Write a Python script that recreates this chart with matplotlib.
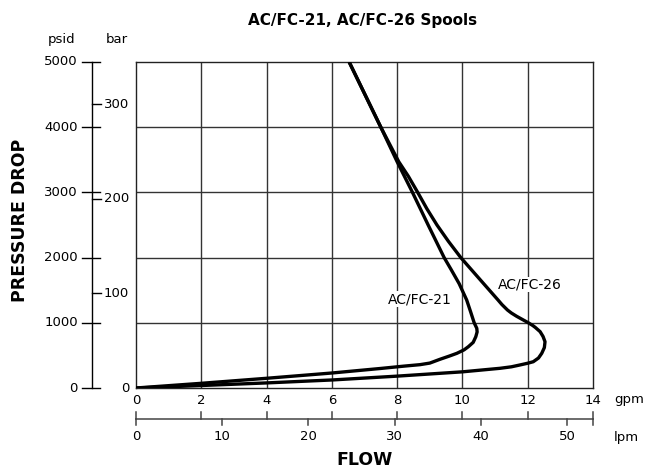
import matplotlib
matplotlib.use("Agg")
import matplotlib.pyplot as plt

# ---- data -------------------------------------------------------------
gpm_ticks = [0, 2, 4, 6, 8, 10, 12, 14]
lpm_ticks = [0, 10, 20, 30, 40, 50]
psid_ticks = [0, 1000, 2000, 3000, 4000, 5000]
bar_ticks = [0, 100, 200, 300]

PSI_PER_BAR = 14.5038
LPM_PER_GPM = 3.78541

# AC/FC-21 spool: flow (gpm) vs pressure drop (psid)
fc21_gpm = [0, 2, 4, 6, 7.5, 8.2, 8.7, 9.0, 9.31, 9.6, 9.83, 10.05, 10.18,
            10.33, 10.41, 10.45, 10.44, 10.36, 10.25, 10.13, 9.9, 9.65, 9.44,
            8.95, 8.47, 8.0, 7.5, 6.53]
fc21_psi = [0, 72, 149, 230, 300, 335, 358, 382, 440, 490, 532, 585, 633,
            700, 787, 860, 915, 1000, 1170, 1350, 1600, 1820, 2000,
            2500, 3000, 3470, 4000, 5000]

# AC/FC-26 spool
fc26_gpm = [0, 2, 4, 6, 8, 10, 11.15, 11.5, 11.76, 12.0, 12.17, 12.33, 12.43,
            12.51, 12.53, 12.47, 12.38, 12.23, 12.15, 12.02, 11.84, 11.66,
            11.5, 11.38, 11.21, 11.09, 10.64, 10.3, 9.95, 9.57, 9.22, 8.91,
            8.63, 8.34, 8.05, 7.5, 6.53]
fc26_psi = [0, 38, 78, 123, 182, 248, 302, 325, 353, 380, 403, 460, 532,
            620, 710, 790, 864, 930, 960, 1000, 1050, 1100,
            1150, 1196, 1280, 1350, 1606, 1800, 2000, 2250, 2500, 2750,
            3000, 3250, 3470, 4000, 5000]

labels = ["AC/FC-21", "AC/FC-26"]
label_pos = [(8.70, 1365), (12.08, 1584)]

# ---- figure layout (pixel geometry) ----------------------------------
W, H = 656, 473
L, R, T, B = 136, 593, 62, 388

fig = plt.figure(figsize=(W / 100, H / 100), dpi=100)
ax = fig.add_axes([L / W, 1 - B / H, (R - L) / W, (B - T) / H])


def ax_x(px):
    return (px - L) / (R - L)


def ax_y(py):
    return (B - py) / (B - T)


ax.set_xlim(0, 14)
ax.set_ylim(0, 5000)
ax.set_xticks([])
ax.set_yticks([])
for s in ax.spines.values():
    s.set_linewidth(1.0)
    s.set_color("#222222")

grid_kw = dict(color="#333333", lw=1.0, zorder=1)
for g in gpm_ticks[1:-1]:
    ax.axvline(g, **grid_kw)
for p in psid_ticks[1:-1]:
    ax.axhline(p, **grid_kw)

# ---- curves ----------------------------------------------------------
curve_kw = dict(color="black", lw=2.4, solid_joinstyle="round",
                solid_capstyle="butt", zorder=3)
ax.plot(fc21_gpm, fc21_psi, **curve_kw)
ax.plot(fc26_gpm, fc26_psi, **curve_kw)
for text, (x, y) in zip(labels, label_pos):
    ax.text(x, y, text, ha="center", va="center", fontsize=10,
            bbox=dict(facecolor="white", edgecolor="none", pad=0.5), zorder=4)

# ---- pressure axes (psid and bar) ------------------------------------
ty = ax.get_yaxis_transform()
line_kw = dict(color="black", lw=1.0, clip_on=False, transform=ty)
x_axis = ax_x(91.5)
ax.plot([x_axis, x_axis], [0, 5000], **line_kw)
for p in psid_ticks:
    ax.plot([ax_x(82), ax_x(100)], [p, p], **line_kw)
    ax.text(ax_x(78), p, f"{p}", transform=ty, ha="right", va="center",
            fontsize=9.5)
for b in bar_ticks:
    p = b * PSI_PER_BAR
    if b > 0:
        ax.plot([x_axis, ax_x(101)], [p, p], **line_kw)
    ax.text(ax_x(129), p, f"{b}", transform=ty, ha="right", va="center",
            fontsize=9.5)

# ---- flow axes (gpm and lpm) -----------------------------------------
tx = ax.get_xaxis_transform()
hline_kw = dict(color="#444444", lw=1.1, clip_on=False, transform=tx)
y_line = ax_y(419)
ax.plot([0, 14], [y_line, y_line], **hline_kw)
for g in gpm_ticks:
    ax.plot([g, g], [y_line, ax_y(412)], **hline_kw)
    ax.text(g, ax_y(400), f"{g}", transform=tx, ha="center", va="center",
            fontsize=9.5)
for lp in lpm_ticks:
    g = lp / LPM_PER_GPM
    ax.plot([g, g], [y_line, ax_y(424.5)], **hline_kw)
    ax.text(g, ax_y(437), f"{lp}", transform=tx, ha="center", va="center",
            fontsize=9.5)
ax.plot([14, 14], [y_line, ax_y(424.5)], **hline_kw)

# ---- titles and unit labels ------------------------------------------
ta = ax.transAxes
ax.text(ax_x(629), ax_y(400), "gpm", transform=ta, ha="center", va="center",
        fontsize=9.5)
ax.text(ax_x(626), ax_y(437), "lpm", transform=ta, ha="center", va="center",
        fontsize=9.5)
ax.text(ax_x(62), ax_y(39), "psid", transform=ta, ha="center", va="center",
        fontsize=9.5)
ax.text(ax_x(117), ax_y(39), "bar", transform=ta, ha="center", va="center",
        fontsize=9.5)
ax.text(0.5, ax_y(460), "FLOW", transform=ta, ha="center", va="center",
        fontsize=12.5, fontweight="bold")
ax.text(ax_x(20), ax_y(220), "PRESSURE DROP", transform=ta, ha="center",
        va="center", rotation=90, fontsize=12.5, fontweight="bold")
ax.text(ax_x(363), ax_y(20), "AC/FC-21, AC/FC-26 Spools", transform=ta,
        ha="center", va="center", fontsize=11, fontweight="bold")

fig.savefig("out.png", dpi=100, facecolor="white")
